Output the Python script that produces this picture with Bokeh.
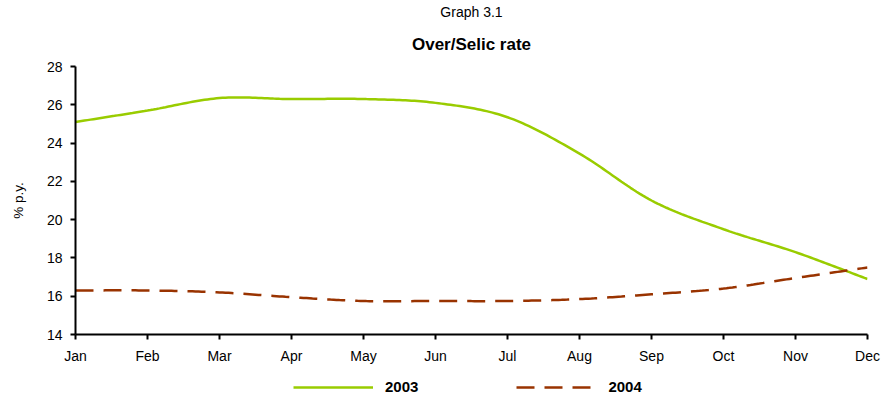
import numpy as np
from bokeh.plotting import figure
from bokeh.layouts import column
from bokeh.models import Range1d, FixedTicker, Legend, LegendItem, Title
from bokeh.embed import file_html
from bokeh.resources import INLINE

months = ["Jan", "Feb", "Mar", "Apr", "May", "Jun", "Jul", "Aug", "Sep", "Oct", "Nov", "Dec"]
rate_2003 = [25.1, 25.7, 26.35, 26.3, 26.3, 26.1, 25.35, 23.45, 21.0, 19.5, 18.3, 16.9]
rate_2004 = [16.3, 16.3, 16.2, 15.95, 15.75, 15.75, 15.75, 15.85, 16.1, 16.4, 16.95, 17.5]
y_ticks = [14, 16, 18, 20, 22, 24, 26, 28]

FONT = "Liberation Sans"
STYLE_2003 = dict(line_color="#99CC00", line_width=2.5)
STYLE_2004 = dict(line_color="#993300", line_width=2.5, line_dash="18 10")


def smooth(xs, ys, steps=24):
    """Catmull-Rom curve through the monthly points (smoothed line rendering)."""
    xs = np.asarray(xs, float)
    ys = np.asarray(ys, float)
    px = np.concatenate([[2 * xs[0] - xs[1]], xs, [2 * xs[-1] - xs[-2]]])
    py = np.concatenate([[2 * ys[0] - ys[1]], ys, [2 * ys[-1] - ys[-2]]])
    out_x, out_y = [], []
    t = np.linspace(0, 1, steps, endpoint=False)
    for i in range(1, len(px) - 2):
        for arr, out in ((px, out_x), (py, out_y)):
            p0, p1, p2, p3 = arr[i - 1], arr[i], arr[i + 1], arr[i + 2]
            seg = 0.5 * ((2 * p1) + (-p0 + p2) * t
                         + (2 * p0 - 5 * p1 + 4 * p2 - p3) * t ** 2
                         + (-p0 + 3 * p1 - 3 * p2 + p3) * t ** 3)
            out.extend(seg.tolist())
    out_x.append(xs[-1])
    out_y.append(ys[-1])
    return out_x, out_y


x = list(range(len(months)))

p = figure(width=891, height=366, output_backend="svg", toolbar_location=None,
           x_range=Range1d(0, len(months) - 1), y_range=Range1d(14, 28),
           min_border_left=75, min_border_right=24, min_border_top=66, min_border_bottom=29)
p.outline_line_color = None
p.xgrid.visible = False
p.ygrid.visible = False
p.background_fill_color = "white"
p.border_fill_color = "white"

p.title = Title(text="Graph 3.1", align="center", text_font=FONT, text_color="black",
                text_font_size="14px", text_font_style="normal", offset=0, standoff=0)
p.add_layout(Title(text="Over/Selic rate", align="center", text_font=FONT, text_color="black",
                   text_font_size="17px", text_font_style="bold", standoff=26), "above")

sx, sy = smooth(x, rate_2003)
p.line(sx, sy, **STYLE_2003)
dx, dy = smooth(x, rate_2004)
p.line(dx, dy, **STYLE_2004)

for ax in (p.xaxis[0], p.yaxis[0]):
    ax.axis_line_color = "black"
    ax.axis_line_width = 2
    ax.major_tick_line_color = "black"
    ax.major_tick_line_width = 2
    ax.major_tick_in = 0
    ax.major_tick_out = 5
    ax.minor_tick_line_color = None
    ax.major_label_text_font = FONT
    ax.major_label_text_font_size = "14px"
    ax.major_label_text_color = "black"
    ax.major_label_standoff = 8

p.xaxis.ticker = FixedTicker(ticks=x)
p.xaxis.major_label_overrides = {i: m for i, m in enumerate(months)}
p.yaxis.ticker = FixedTicker(ticks=y_ticks)
p.yaxis.axis_label = "% p.y."
p.yaxis.axis_label_text_font = FONT
p.yaxis.axis_label_text_color = "black"
p.yaxis.axis_label_text_font_size = "13.5px"
p.yaxis.axis_label_text_font_style = "normal"
p.yaxis.axis_label_standoff = 18

# Legend strip under the chart: key lines sit outside the visible range,
# only their legend swatches show.
leg = figure(width=891, height=32, output_backend="svg", toolbar_location=None,
             x_range=Range1d(0, 1), y_range=Range1d(0, 1),
             min_border_left=75, min_border_right=24, min_border_top=0, min_border_bottom=0,
             outline_line_color=None)
leg.axis.visible = False
leg.grid.visible = False
k1 = leg.line([5, 6], [5, 6], **STYLE_2003)
k2 = leg.line([5, 6], [5, 6], **STYLE_2004)
legend = Legend(items=[LegendItem(label="2003", renderers=[k1]),
                       LegendItem(label="2004", renderers=[k2])],
                orientation="horizontal", location=(218, 3),
                label_text_font=FONT, label_text_font_size="15px", label_text_color="black",
                label_text_font_style="bold", glyph_width=80, glyph_height=16,
                label_standoff=12, spacing=98, padding=0, margin=0,
                border_line_color=None, background_fill_alpha=0)
leg.add_layout(legend, "center")

open("out.html", "w").write(file_html(column(p, leg, spacing=0), INLINE))
